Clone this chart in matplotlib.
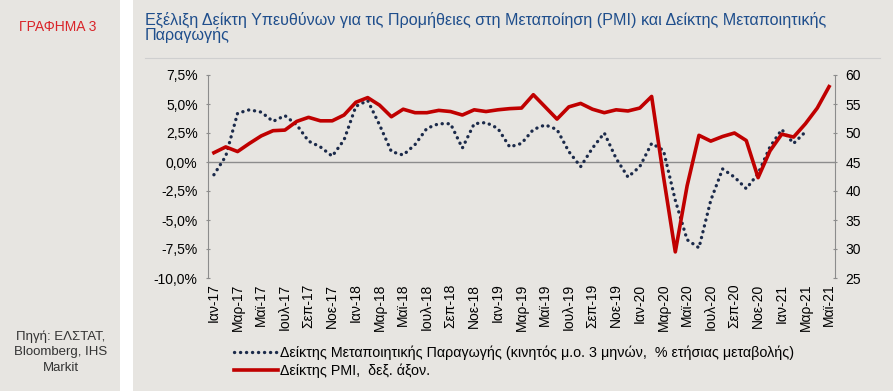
import matplotlib
matplotlib.use("Agg")
import matplotlib.pyplot as plt
from matplotlib.patches import Rectangle
from matplotlib.lines import Line2D
from matplotlib.ticker import FixedLocator

plt.rcParams['font.family'] = ['Liberation Sans', 'DejaVu Sans']

# monthly labels Jan 2017 .. May 2021
month_names = ['Ιαν', 'Φεβ', 'Μαρ', 'Απρ', 'Μαϊ', 'Ιουν',
               'Ιουλ', 'Αυγ', 'Σεπ', 'Οκτ', 'Νοε', 'Δεκ']
years = ['17', '18', '19', '20', '21']
months = [f"{m}-{y}" for y in years for m in month_names][:53]

# Δείκτης Μεταποιητικής Παραγωγής, 3m moving avg, % yoy (Jan 2017 .. Mar 2021)
ipi = [-1.1, 0.5, 4.2, 4.5, 4.3, 3.5, 4.0, 3.2, 1.8, 1.3, 0.5, 1.9,
       4.8, 5.3, 3.2, 0.9, 0.6, 1.5, 2.9, 3.3, 3.3, 1.2, 3.3, 3.4,
       2.9, 1.3, 1.6, 2.8, 3.2, 2.8, 0.9, -0.4, 1.2, 2.5, 0.3, -1.3,
       -0.4, 1.6, 1.0, -3.3, -6.7, -7.4, -3.3, -0.6, -1.3, -2.3, -1.0, 1.3,
       2.8, 1.6, 2.6]

# Δείκτης PMI (right axis), Jan 2017 .. May 2021
pmi = [46.6, 47.6, 46.8, 48.2, 49.5, 50.4, 50.5, 52.0, 52.7, 52.1, 52.1, 53.1,
       55.3, 56.1, 54.8, 52.8, 54.1, 53.5, 53.5, 53.9, 53.7, 53.1, 54.0, 53.7,
       54.0, 54.2, 54.3, 56.6, 54.5, 52.4, 54.5, 55.1, 54.1, 53.5, 54.0, 53.8,
       54.3, 56.3, 42.5, 29.5, 40.9, 49.6, 48.6, 49.4, 50.0, 48.7, 42.3, 46.9,
       49.8, 49.3, 51.6, 54.3, 58.0]

pct_ticks = [-10, -7.5, -5, -2.5, 0, 2.5, 5, 7.5]
pct_labels = ['-10,0%', '-7,5%', '-5,0%', '-2,5%', '0,0%', '2,5%', '5,0%', '7,5%']
pmi_ticks = [25, 30, 35, 40, 45, 50, 55, 60]

bg = '#e7e5e1'
fig = plt.figure(figsize=(8.93, 3.91), dpi=100, facecolor=bg)

# white separator strip between side panel and chart panel
fig.patches.append(Rectangle((120 / 893, 0), 13 / 893, 1, transform=fig.transFigure,
                             facecolor='white', edgecolor='none', zorder=0))
fig.lines.append(Line2D([145 / 893, 880 / 893], [1 - 58 / 391, 1 - 58 / 391],
                        transform=fig.transFigure, color='#cfcfcf', lw=0.8))

fig.text(58 / 893, 1 - 27 / 391, 'ΓΡΑΦΗΜΑ 3', color='#d9252a', fontsize=10,
         ha='center', va='center')
fig.text(61 / 893, 1 - 352 / 391, 'Πηγή: ΕΛΣΤΑΤ,\nBloomberg, IHS\nMarkit',
         color='#333333', fontsize=9.5, ha='center', va='center', linespacing=1.4)
fig.text(145 / 893, 1 - 12 / 391,
         'Εξέλιξη Δείκτη Υπευθύνων για τις Προμήθειες στη Μεταποίηση (PMI) και Δείκτης Μεταποιητικής\nΠαραγωγής',
         color='#1f4e8c', fontsize=11.6, ha='left', va='top', linespacing=0.92)

ax = fig.add_axes([208 / 893, 1 - 278 / 391, 627 / 893, 203 / 391])
ax.set_facecolor('none')
ax2 = ax.twinx()

x = list(range(len(months)))
l1, = ax.plot(x[:len(ipi)], ipi, color='#1b2a4a', lw=2.4,
              linestyle=(0, (0.05, 1.75)), dash_capstyle='round')
l2, = ax2.plot(x, pmi, color='#c00000', lw=2.6, solid_joinstyle='round')

ax.axhline(0, color='#8c8c8c', lw=1.0, zorder=0)
ax.set_xlim(-0.5, len(months) - 0.5)
ax.set_ylim(-10, 7.5)
ax2.set_ylim(25, 60)

ax.yaxis.set_major_locator(FixedLocator(pct_ticks))
ax.set_yticklabels(pct_labels)
ax2.yaxis.set_major_locator(FixedLocator(pmi_ticks))
ax.set_xticks(x[::2])
ax.set_xticklabels(months[::2], rotation=90, fontsize=10)
ax.tick_params(axis='x', length=0, pad=4)
ax.tick_params(axis='y', labelsize=10, length=3, direction='inout', color='#8c8c8c', pad=6)
ax2.tick_params(axis='y', labelsize=10, length=3, direction='inout', color='#8c8c8c', pad=6)

for a in (ax, ax2):
    for side in ('top', 'bottom'):
        a.spines[side].set_visible(False)
    a.spines['left'].set_color('#8c8c8c')
    a.spines['right'].set_color('#8c8c8c')
ax.spines['right'].set_visible(False)
ax2.spines['left'].set_visible(False)

fig.legend([l1, l2],
           ['Δείκτης Μεταποιητικής Παραγωγής (κινητός μ.ο. 3 μηνών,  % ετήσιας μεταβολής)',
            'Δείκτης PMI,  δεξ. άξον.'],
           loc='upper left', bbox_to_anchor=(228 / 893, 1 - 340 / 391),
           frameon=False, fontsize=10.3, handlelength=3.1, handletextpad=0.15,
           labelspacing=0.2, borderaxespad=0)

fig.savefig('out.png', dpi=100, facecolor=bg)
